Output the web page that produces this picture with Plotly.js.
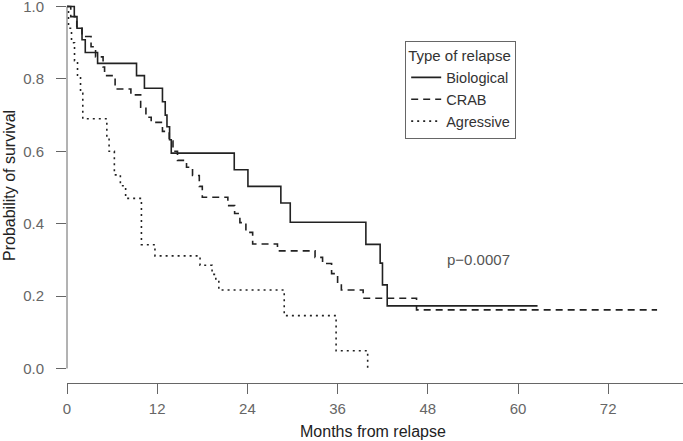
<!DOCTYPE html>
<html>
<head>
<meta charset="utf-8">
<script src="https://cdn.plot.ly/plotly-3.0.1.min.js"></script>
<style>html,body{margin:0;padding:0;background:#fff;}#chart{width:683px;height:441px;}</style>
</head>
<body>
<div id="chart"></div>
<script>
// Kaplan-Meier step data
const bioMonths = [0, 0.97, 1.33, 2.0, 2.43, 4.07, 9.25, 10.3, 12.7, 13.07, 13.3, 13.65, 13.87, 22.25, 24.07, 28.45, 29.7, 39.76, 41.66, 41.97, 42.6, 62.6];
const bioSurv   = [1, 0.972, 0.94, 0.908, 0.873, 0.843, 0.809, 0.774, 0.737, 0.70, 0.668, 0.632, 0.595, 0.549, 0.503, 0.457, 0.404, 0.343, 0.291, 0.231, 0.173, 0.173];

const crabMonths = [0, 0.5, 1.3, 2.0, 3.2, 3.8, 4.8, 5.0, 6.4, 8.5, 9.8, 10.5, 11.2, 12.7, 13.6, 14.1, 14.7, 15.9, 16.7, 17.6, 18.0, 21.4, 22.3, 23.0, 23.8, 24.7, 28.0, 33.0, 34.0, 35.2, 36.0, 36.5, 39.4, 46.5, 78.5];
const crabSurv   = [1, 0.972, 0.944, 0.917, 0.889, 0.861, 0.833, 0.809, 0.772, 0.756, 0.722, 0.694, 0.680, 0.655, 0.628, 0.600, 0.575, 0.556, 0.533, 0.503, 0.473, 0.450, 0.428, 0.403, 0.376, 0.344, 0.325, 0.307, 0.290, 0.262, 0.236, 0.217, 0.194, 0.162, 0.162];

const agMonths = [0, 0.2, 0.6, 1.0, 1.4, 1.8, 2.1, 5.3, 5.6, 6.3, 7.1, 7.8, 9.9, 11.7, 17.7, 19.3, 19.8, 20.2, 28.9, 35.8, 40.0];
const agSurv   = [1.0, 0.94, 0.90, 0.85, 0.81, 0.76, 0.69, 0.64, 0.60, 0.535, 0.505, 0.47, 0.342, 0.311, 0.285, 0.26, 0.245, 0.217, 0.146, 0.049, 0.0];

const seriesNames = ["Biological", "CRAB", "Agressive"];
const xTicks = [0, 12, 24, 36, 48, 60, 72];
const yTicks = [0, 0.2, 0.4, 0.6, 0.8, 1.0];
const pText = "p\u22120.0007";
const pPos = [54.7, 0.30];

const lineColor = "#222222";
const traces = [
  {x: bioMonths, y: bioSurv, name: seriesNames[0], mode: "lines",
   line: {shape: "hv", color: lineColor, width: 1.6}},
  {x: crabMonths, y: crabSurv, name: seriesNames[1], mode: "lines",
   line: {shape: "hv", color: lineColor, width: 1.6, dash: "7px,5px"}},
  {x: agMonths, y: agSurv, name: seriesNames[2], mode: "lines",
   line: {shape: "hv", color: lineColor, width: 1.6, dash: "2px,4px"}}
];

const layout = {
  width: 683, height: 441,
  margin: {l: 67, r: 0, t: 0, b: 58, pad: 0},
  paper_bgcolor: "#fff", plot_bgcolor: "#fff",
  font: {family: "Liberation Sans, Arial, sans-serif", size: 15, color: "#666"},
  showlegend: true,
  legend: {
    x: 0.549, y: 0.893, xanchor: "left", yanchor: "top",
    bordercolor: "#666", borderwidth: 1, bgcolor: "rgba(255,255,255,0)",
    font: {size: 14.5, color: "#333"},
    title: {text: "Type of relapse", font: {size: 15, color: "#333"}},
    tracegroupgap: 0
  },
  xaxis: {
    range: [0, 81.95], tickvals: xTicks, ticktext: xTicks.map(String),
    showgrid: false, zeroline: false, showline: true, linecolor: "#666", linewidth: 1,
    ticks: "outside", ticklen: 10, tickcolor: "#666", tickwidth: 1,
    tickfont: {size: 15, color: "#666"}, ticklabelstandoff: 2
  },
  yaxis: {
    range: [-0.0401, 1.018], tickvals: yTicks, ticktext: yTicks.map(v => v.toFixed(1)),
    showgrid: false, zeroline: false, showline: false,
    ticks: "outside", ticklen: 10, tickcolor: "#666", tickwidth: 1,
    tickfont: {size: 15, color: "#666"}, ticklabelstandoff: 9,
    ticklabeloverflow: "allow"
  },
  shapes: [
    {type: "line", xref: "paper", yref: "y", x0: 0, x1: 0, y0: 0, y1: 1,
     line: {color: "#666", width: 1}}
  ],
  annotations: [
    {text: pText, x: pPos[0], y: pPos[1], xref: "x", yref: "y", showarrow: false,
     font: {size: 15, color: "#555"}},
    {text: "Months from relapse", xref: "paper", yref: "paper", x: (373-67)/616, y: -(431-383)/383,
     xanchor: "center", yanchor: "middle", showarrow: false, font: {size: 16, color: "#222"}},
    {text: "Probability of survival", xref: "paper", yref: "paper", x: (9-67)/616, y: 1-186/383,
     xanchor: "center", yanchor: "middle", textangle: -90, showarrow: false, font: {size: 16, color: "#222"}}
  ]
};

Plotly.newPlot("chart", traces, layout, {displayModeBar: false, staticPlot: true});
</script>
</body>
</html>
